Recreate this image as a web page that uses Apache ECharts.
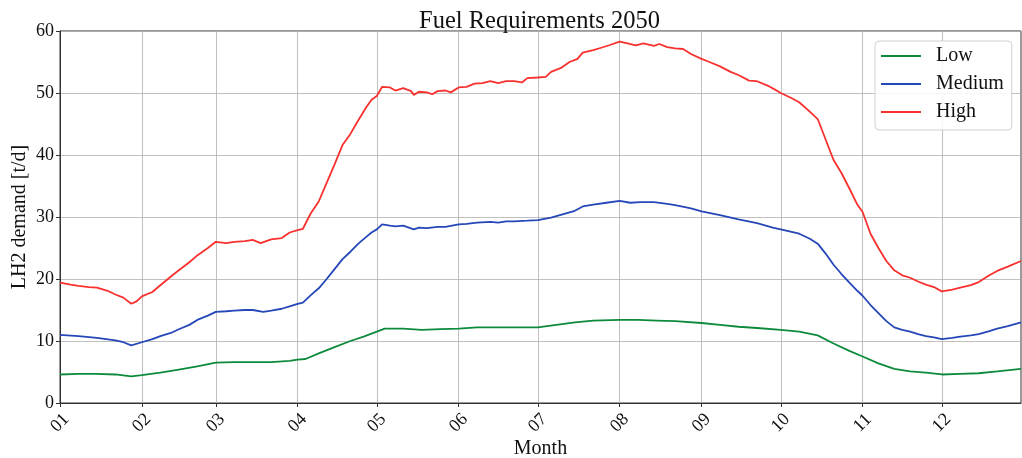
<!DOCTYPE html>
<html>
<head>
<meta charset="utf-8">
<script src="https://cdn.jsdelivr.net/npm/echarts@6/dist/echarts.min.js"></script>
<style>
html,body{margin:0;padding:0;background:#fff;}
#chart{width:1022px;height:458px;}
</style>
</head>
<body>
<div id="chart"></div>
<script>
// ---- data (day-of-year index, 0 = 2050-01-01) ----
const titleText = 'Fuel Requirements 2050';
const seriesNames = ['Low', 'Medium', 'High'];
const yTicks = [0, 10, 20, 30, 40, 50, 60];

const lowDays = [0,7,14,21,27,31,38,45,52,59,66,73,80,87,90,93,98,104,110,115,120,123,130,137,144,151,158,165,172,181,188,195,202,212,219,226,233,243,250,257,264,273,280,287,293,299,304,310,316,322,328,334,341,348,355,364];
const lowValues = [4.6,4.7,4.7,4.6,4.3,4.5,4.9,5.4,5.9,6.5,6.6,6.6,6.6,6.8,7.0,7.1,8.0,9.0,10.0,10.7,11.5,12.0,12.0,11.8,11.9,12.0,12.2,12.2,12.2,12.2,12.6,13.0,13.3,13.4,13.4,13.3,13.2,12.9,12.6,12.3,12.1,11.8,11.5,10.9,9.6,8.4,7.5,6.4,5.5,5.1,4.9,4.6,4.7,4.8,5.1,5.5];

const mediumDays = [0,7,14,21,24,27,31,35,38,42,45,49,52,56,59,63,66,70,73,77,80,84,87,90,92,95,98,101,104,107,110,113,116,118,120,122,125,127,130,134,136,139,143,146,151,154,158,163,166,169,172,177,181,186,190,195,198,202,207,212,216,220,225,230,233,239,243,250,257,264,270,273,280,284,287,290,293,296,299,302,304,307,310,313,316,319,322,325,328,331,334,338,341,345,348,352,355,359,364];
const mediumValues = [11.0,10.8,10.5,10.1,9.8,9.3,9.8,10.3,10.8,11.3,11.9,12.6,13.4,14.1,14.7,14.8,14.9,15.0,15.0,14.7,14.9,15.2,15.6,16.0,16.2,17.4,18.5,20.0,21.6,23.2,24.4,25.7,26.8,27.5,28.0,28.8,28.6,28.5,28.6,28.0,28.3,28.2,28.4,28.4,28.8,28.9,29.1,29.2,29.1,29.3,29.3,29.4,29.5,29.9,30.4,31.0,31.7,32.0,32.3,32.6,32.3,32.4,32.4,32.1,31.9,31.4,30.9,30.3,29.6,29.0,28.3,28.0,27.3,26.5,25.7,24.1,22.3,20.8,19.4,18.1,17.3,15.8,14.5,13.2,12.2,11.8,11.5,11.1,10.8,10.6,10.3,10.5,10.7,10.9,11.1,11.6,12.0,12.4,13.0];

const highDays = [0,4,7,11,14,18,21,24,27,29,31,35,38,42,45,49,52,56,59,63,66,70,73,76,80,84,87,90,92,95,98,101,104,107,110,113,116,118,120,122,125,127,130,133,134,136,139,141,143,146,148,151,154,157,160,163,166,169,172,175,177,181,184,186,190,193,196,198,202,205,208,212,215,218,221,225,227,230,233,236,239,243,246,250,254,257,261,264,268,271,273,277,280,284,287,290,293,296,299,302,304,307,310,313,316,319,322,325,328,331,334,338,341,345,348,352,355,359,364];
const highValues = [19.4,19.1,18.9,18.7,18.6,18.1,17.5,17.0,16.0,16.4,17.2,17.9,19.0,20.4,21.4,22.7,23.8,25.0,26.0,25.8,26.0,26.1,26.3,25.8,26.4,26.6,27.5,27.9,28.1,30.6,32.5,35.5,38.5,41.6,43.4,45.6,47.7,48.9,49.5,51.0,50.9,50.4,50.8,50.3,49.7,50.2,50.1,49.8,50.3,50.4,50.1,50.9,51.0,51.5,51.6,51.9,51.6,51.9,51.9,51.7,52.4,52.5,52.6,53.4,54.1,55.0,55.5,56.5,56.9,57.3,57.7,58.3,58.0,57.7,58.0,57.6,57.9,57.4,57.2,57.1,56.3,55.5,55.0,54.3,53.4,52.9,52.0,51.9,51.2,50.5,50.0,49.2,48.5,47.0,45.8,42.5,39.2,37.1,34.6,32.0,30.8,27.3,25.0,22.9,21.4,20.6,20.2,19.6,19.1,18.7,18.0,18.3,18.6,19.0,19.5,20.6,21.3,22.0,22.9];

// categories: every day of 2050
const dayCategories = [];
for (let t = Date.UTC(2050,0,1); t <= Date.UTC(2050,11,31); t += 86400000) {
  dayCategories.push(new Date(t).toISOString().slice(0,10));
}
const isMonthStart = (idx, val) => val.slice(8) === '01';

const FONT = '"Liberation Serif", "DejaVu Serif", serif';
const colors = ['#0d8a3c', '#2547b8', '#f8312f'];

function pairs(days, vals) { return days.map((d, i) => [d, vals[i]]); }

const chart = echarts.init(document.getElementById('chart'));
chart.setOption({
  animation: false,
  backgroundColor: '#fff',
  title: {
    text: titleText, left: 414, top: 4,
    textStyle: { fontFamily: FONT, fontSize: 24.5, fontWeight: 'normal', color: '#111' }
  },
  grid: { left: 60, right: 1, top: 31, bottom: 55, show: true, borderColor: '#333', borderWidth: 1,
          containLabel: false, outerBoundsMode: 'none' },
  legend: {
    orient: 'vertical', left: 875, top: 41,
    data: seriesNames,
    itemWidth: 40, itemHeight: 18, itemGap: 8,
    padding: [5, 8, 8, 5],
    itemStyle: { opacity: 0 },
    backgroundColor: 'rgba(255,255,255,0.85)',
    borderColor: '#d0d0d0', borderWidth: 1, borderRadius: 4,
    textStyle: { fontFamily: FONT, fontSize: 20, lineHeight: 20, color: '#111', padding: [0,0,0,10] }
  },
  xAxis: {
    type: 'category', boundaryGap: false, data: dayCategories,
    name: 'Month', nameLocation: 'middle', nameGap: 36, nameMoveOverlap: false,
    nameTextStyle: { fontFamily: FONT, fontSize: 20, color: '#111' },
    axisLine: { lineStyle: { color: '#333', width: 1 } },
    axisTick: { show: true, interval: isMonthStart, length: 4, lineStyle: { color: '#333' } },
    axisLabel: { interval: isMonthStart, rotate: 45, margin: 20, align: 'center', verticalAlign: 'middle',
      fontFamily: FONT, fontSize: 18, color: '#111', formatter: v => v.slice(5,7) },
    splitLine: { show: true, interval: isMonthStart, lineStyle: { color: '#b0b0b0', width: 0.8 } }
  },
  yAxis: {
    type: 'value', min: yTicks[0], max: yTicks[yTicks.length-1], interval: 10,
    name: 'LH2 demand [t/d]', nameLocation: 'middle', nameGap: 30, nameRotate: 90, nameMoveOverlap: false,
    nameTextStyle: { fontFamily: FONT, fontSize: 20, color: '#111' },
    axisLine: { show: true, lineStyle: { color: '#333', width: 1 } },
    axisTick: { show: true, length: 4, lineStyle: { color: '#333' } },
    axisLabel: { margin: 6, fontFamily: FONT, fontSize: 18, color: '#111' },
    splitLine: { show: true, lineStyle: { color: '#b0b0b0', width: 0.8 } }
  },
  series: [
    { name: seriesNames[0], type: 'line', data: pairs(lowDays, lowValues), symbol: 'none', color: colors[0], lineStyle: { width: 1.8 } },
    { name: seriesNames[1], type: 'line', data: pairs(mediumDays, mediumValues), symbol: 'none', color: colors[1], lineStyle: { width: 1.8 } },
    { name: seriesNames[2], type: 'line', data: pairs(highDays, highValues), symbol: 'none', color: colors[2], lineStyle: { width: 1.8 } }
  ]
});
</script>
</body>
</html>
